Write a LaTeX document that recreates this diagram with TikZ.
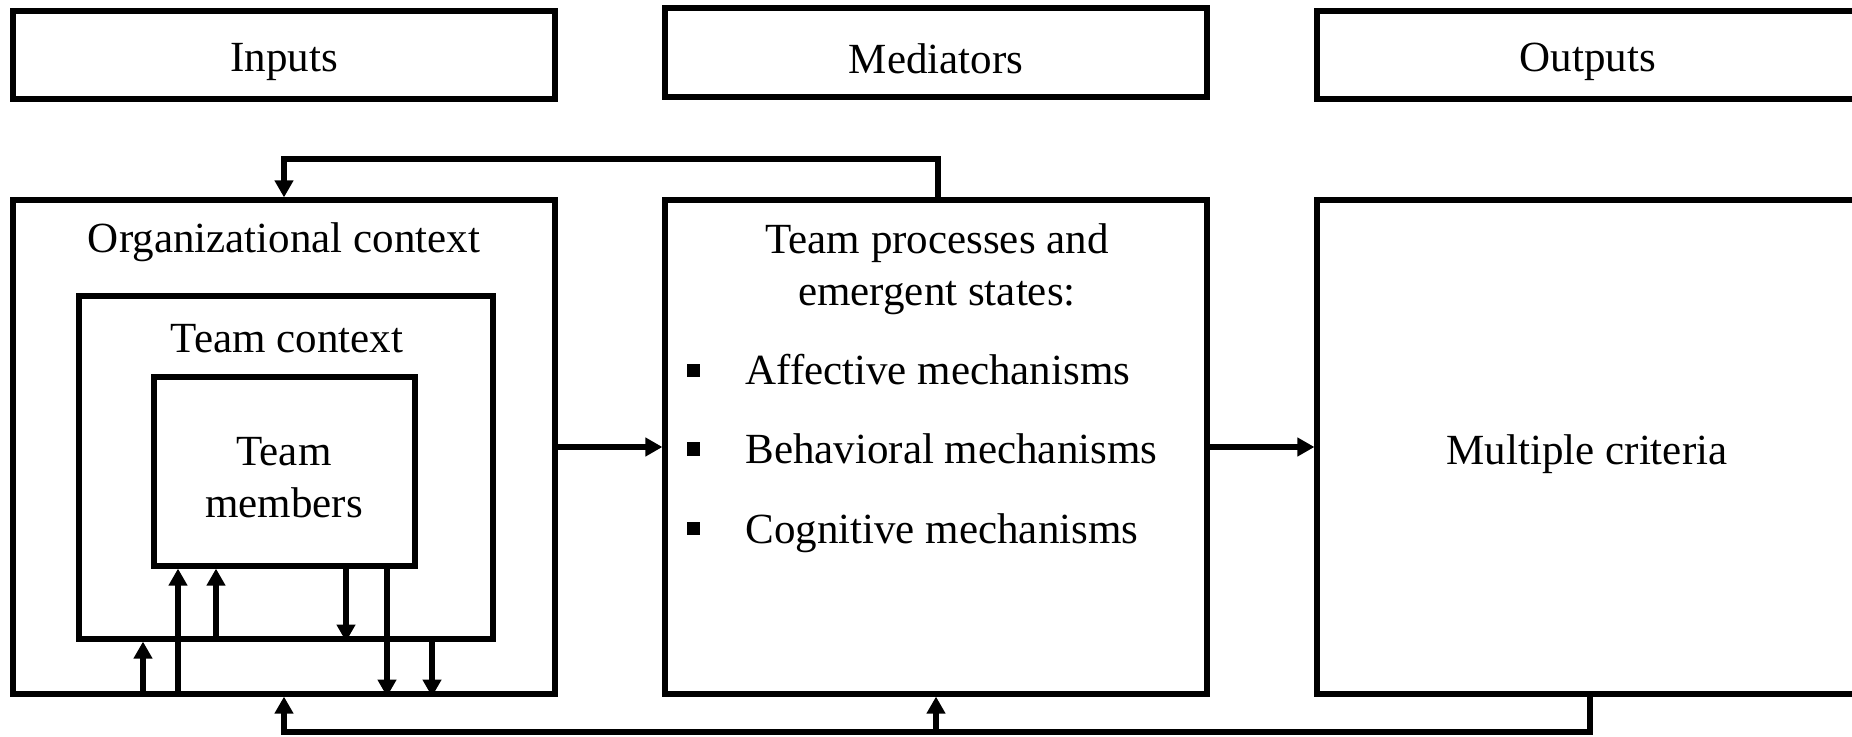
\documentclass[tikz,border=0pt]{standalone}
\usepackage{fontspec}
\setmainfont{Liberation Serif}
\usetikzlibrary{arrows.meta,calc}
\begin{document}
\begin{tikzpicture}[x=0.5pt,y=-0.5pt,
  box/.style={draw,line width=2.6pt,inner sep=0pt,minimum width=271pt},
  txt/.style={inner sep=0pt,font=\fontsize{21.5}{26}\selectfont,align=center},
  arr/.style={line width=2.6pt,-{Triangle[length=8.5pt,width=9pt]}},
  bul/.style={fill,inner sep=0pt,minimum size=6.5pt}]
\useasboundingbox (0,0) rectangle (1852,737);
\clip (0,0) rectangle (1852,737);
% header boxes
\node[box,minimum height=44pt] (inputs) at (284,55) {};
\node[box,minimum height=44.5pt] (mediators) at (936,52.5) {};
\node[box,minimum height=44pt] (outputs) at (1588,55) {};
\node[txt] (tin) at (284,62) {Inputs};
\node[txt] (tmed) at (936,59) {Mediators};
\node[txt] (tout) at (1588,62) {Outputs};
% main boxes
\node[box,minimum height=247pt] (org) at (284,447) {};
\node[box,minimum height=247pt] (proc) at (936,447) {};
\node[box,minimum height=247pt] (crit) at (1588,447) {};
\node[box,minimum width=207pt,minimum height=171.5pt] (tctx) at (286,467.5) {};
\node[box,minimum width=130.5pt,minimum height=94.5pt] (tmem) at (284.5,471.5) {};
% texts
\node[txt] (torg) at (284,242) {Organizational context};
\node[txt] (ttctx) at (287,339) {Team context};
\node[txt] (ttmem) at (284,478) {Team\\members};
\node[txt] (tproc) at (937,269) {Team processes and\\emergent states:};
\node[bul] (b1) at (693,371) {};
\node[bul] (b2) at (693,449) {};
\node[bul] (b3) at (693,528) {};
\node[txt,anchor=base west] (i1) at (745,385) {Affective mechanisms};
\node[txt,anchor=base west] (i2) at (745,464) {Behavioral mechanisms};
\node[txt,anchor=base west] (i3) at (745,543) {Cognitive mechanisms};
\node[txt] (tcrit) at (1587,454) {Multiple criteria};
% main arrows
\draw[arr] (org.east) -- (proc.west);
\draw[arr] (proc.east) -- (crit.west);
% top feedback
\coordinate (fbT) at (938,159);
\draw[arr] (proc.north -| fbT) -- (fbT) -| (org.north);
% bottom feedback
\coordinate (fbB) at (1590,732);
\draw[arr] (crit.south -| fbB) -- (fbB) -| (org.south);
\draw[arr] (proc.south |- fbB) -- (proc.south);
% small internal arrows
\coordinate (c1) at (143,0);
\coordinate (c2) at (178,0);
\coordinate (c3) at (216,0);
\coordinate (c4) at (346,0);
\coordinate (c5) at (387,0);
\coordinate (c6) at (432,0);
\draw[arr] (org.south -| c1) -- (tctx.south -| c1);
\draw[arr] (org.south -| c2) -- (tmem.south -| c2);
\draw[arr] (tctx.south -| c3) -- (tmem.south -| c3);
\draw[arr] (tmem.south -| c4) -- (tctx.south -| c4);
\draw[arr] (tmem.south -| c5) -- (org.south -| c5);
\draw[arr] (tctx.south -| c6) -- (org.south -| c6);
\end{tikzpicture}
\end{document}
